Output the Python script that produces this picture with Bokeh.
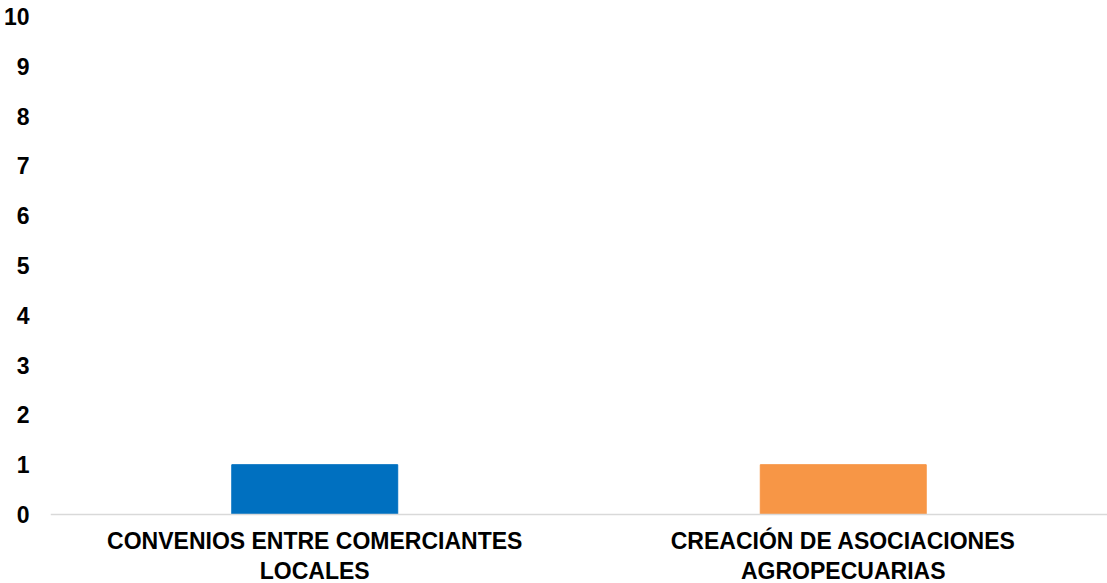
from bokeh.plotting import figure
from bokeh.models import ColumnDataSource, FixedTicker, Span
from bokeh.core.properties import value
from bokeh.embed import file_html
from bokeh.resources import INLINE

categories = ["CONVENIOS ENTRE COMERCIANTES\nLOCALES", "CREACIÓN DE ASOCIACIONES\nAGROPECUARIAS"]
values = [1, 1]
colors = ["#0070C0", "#F79646"]
y_ticks = list(range(0, 11))

# vertical room below the baseline (in value units) used for category labels
label_room = 1.3855
label_y = -0.27

source = ColumnDataSource(data=dict(cat=categories, val=values, color=colors,
                                    ly=[label_y] * len(categories)))

p = figure(x_range=categories, y_range=(-label_room, 10), width=1107, height=583,
           output_backend="svg", toolbar_location=None,
           min_border_left=50, min_border_right=0, min_border_top=16, min_border_bottom=0)

p.vbar(x="cat", top="val", bottom=0, width=0.314, color="color", source=source)

font = "Liberation Sans"
p.outline_line_color = None
p.xgrid.grid_line_color = None
p.ygrid.grid_line_color = None
p.xaxis.visible = False

p.add_layout(Span(location=0, dimension="width", line_color="#D9D9D9", line_width=1.5))

p.yaxis.ticker = FixedTicker(ticks=y_ticks)
p.yaxis.axis_line_color = None
p.yaxis.major_tick_line_color = None
p.yaxis.minor_tick_line_color = None
p.yaxis.major_tick_out = 0
p.yaxis.major_tick_in = 0
p.yaxis.major_label_standoff = 21
p.yaxis.major_label_text_font = font
p.yaxis.major_label_text_font_style = "bold"
p.yaxis.major_label_text_font_size = "23px"
p.yaxis.major_label_text_color = "#000000"

p.text(x="cat", y="ly", text="cat", source=source,
       text_align="center", text_baseline="top",
       text_font=value(font), text_font_style="bold",
       text_font_size="23px", text_color="#000000",
       text_line_height=1.15)

open("out.html", "w").write(file_html(p, INLINE))
